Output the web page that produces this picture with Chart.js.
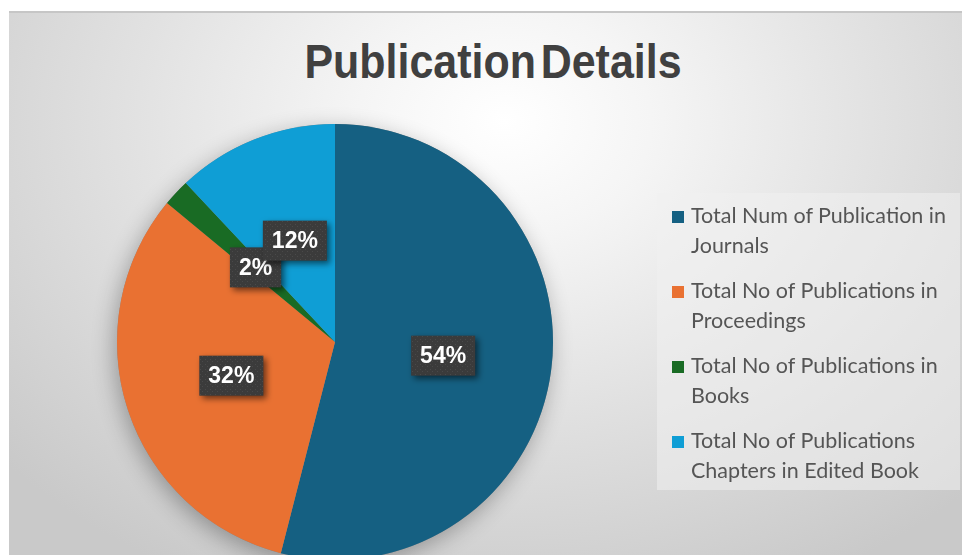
<!DOCTYPE html>
<html>
<head>
<meta charset="utf-8">
<script src="https://cdn.jsdelivr.net/npm/chart.js@4.4.1/dist/chart.umd.min.js"></script>
<style>
    html, body { margin: 0; padding: 0; background: #fff; width: 962px; height: 555px; overflow: hidden; }
    #frame {
        position: absolute; left: 9px; top: 11px; width: 953px; height: 542px;
        border-top: 2px solid #c6c6c6; overflow: hidden;
        background: radial-gradient(ellipse 70% 95% at 52% 20%, #ffffff 0%, #f5f5f5 22%, #e2e2e2 55%, #c9c9c9 100%);
    }
    #title {
        position: absolute; left: 484px; top: 25px; transform: translateX(-50%) scaleX(0.895);
        margin: 0; white-space: nowrap;
        font-family: "Liberation Sans", Arial, sans-serif;
        font-weight: bold; font-size: 48px; line-height: 48px;
        word-spacing: -8px; color: #404040;
    }
    #chart-wrap { position: absolute; left: 0; top: 0; width: 953px; height: 600px; }
    #legend {
        position: absolute; left: 648px; top: 180px; width: 303px; height: 297px;
        background: rgba(240, 240, 240, 0.55); box-sizing: border-box; padding-top: 7px;
        font-family: Lato, "Open Sans", sans-serif; font-size: 21.5px; line-height: 30px; color: #555555;
    }
    .item { position: relative; padding-left: 34px; margin-bottom: 15px; }
    .item .box { position: absolute; left: 15px; top: 11px; width: 12px; height: 12px; }
</style>
</head>
<body>
<div id="frame">
    <h1 id="title">Publication Details</h1>
    <div id="chart-wrap"><canvas id="pub-pie"></canvas></div>
    <div id="legend"></div>
</div>
<script>
const categories = [
    ['Total Num of Publication in', 'Journals'],
    ['Total No of Publications in', 'Proceedings'],
    ['Total No of Publications in', 'Books'],
    ['Total No of Publications', 'Chapters in Edited Book']
];
const shares = [54, 32, 2, 12];
const sliceColors = ['#156082', '#E97132', '#196B24', '#0F9ED5'];

// dotted dark fill for the data label boxes
function buildLabelPattern(ctx) {
    const c = document.createElement('canvas');
    c.width = 5; c.height = 5;
    const p = c.getContext('2d');
    p.fillStyle = '#3b3b3b';
    p.fillRect(0, 0, 5, 5);
    p.fillStyle = '#4a4a4a';
    p.fillRect(1, 1, 1, 1);
    p.fillRect(3, 3, 1, 1);
    return ctx.createPattern(c, 'repeat');
}

const pieShadow = {
    id: 'pieShadow',
    beforeDatasetsDraw(chart) {
        const arc = chart.getDatasetMeta(0).data[0];
        if (!arc) { return; }
        const ctx = chart.ctx;
        ctx.save();
        ctx.shadowColor = 'rgba(0,0,0,0.30)';
        ctx.shadowBlur = 22;
        ctx.shadowOffsetX = -3;
        ctx.shadowOffsetY = 6;
        ctx.fillStyle = '#888';
        ctx.beginPath();
        ctx.arc(arc.x, arc.y, arc.outerRadius, 0, Math.PI * 2);
        ctx.fill();
        ctx.restore();
    }
};

const percentBoxes = {
    id: 'percentBoxes',
    afterDatasetsDraw(chart) {
        const ctx = chart.ctx;
        const data = chart.data.datasets[0].data;
        const total = data.reduce((a, b) => a + b, 0);
        const pattern = buildLabelPattern(ctx);
        chart.getDatasetMeta(0).data.forEach((arc, i) => {
            const pos = arc.tooltipPosition();
            const text = Math.round(data[i] / total * 100) + '%';
            ctx.save();
            ctx.font = 'bold 23px "Liberation Sans", Arial, sans-serif';
            const w = ctx.measureText(text).width + 18;
            const h = 40;
            ctx.shadowColor = 'rgba(0,0,0,0.55)';
            ctx.shadowBlur = 6;
            ctx.shadowOffsetX = 3;
            ctx.shadowOffsetY = 3;
            ctx.fillStyle = pattern;
            ctx.fillRect(pos.x - w / 2, pos.y - h / 2, w, h);
            ctx.shadowColor = 'transparent';
            ctx.fillStyle = '#ffffff';
            ctx.textAlign = 'center';
            ctx.textBaseline = 'middle';
            ctx.fillText(text, pos.x, pos.y + 1);
            ctx.restore();
        });
    }
};

const chart = new Chart(document.getElementById('pub-pie'), {
    type: 'pie',
    data: {
        labels: categories.map(c => c.join(' ')),
        datasets: [{
            data: shares,
            backgroundColor: sliceColors,
            borderWidth: 0
        }]
    },
    options: {
        responsive: true,
        maintainAspectRatio: false,
        animation: false,
        layout: { padding: { left: 108, right: 409, top: 111, bottom: 53 } },
        plugins: {
            legend: { display: false },
            tooltip: { enabled: false }
        }
    },
    plugins: [pieShadow, percentBoxes]
});

// legend drawn as html so the labels can wrap like the original
const legendEl = document.getElementById('legend');
categories.forEach((lines, i) => {
    const item = document.createElement('div');
    item.className = 'item';
    const box = document.createElement('span');
    box.className = 'box';
    box.style.background = sliceColors[i];
    item.appendChild(box);
    lines.forEach(line => {
        const row = document.createElement('div');
        row.textContent = line;
        item.appendChild(row);
    });
    legendEl.appendChild(item);
});
</script>
</body>
</html>
